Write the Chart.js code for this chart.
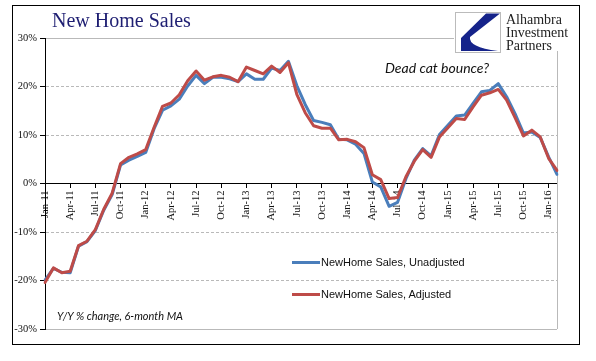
<!DOCTYPE html>
<html>
<head>
<meta charset="utf-8">
<script src="https://cdn.jsdelivr.net/npm/chart.js@4.4.1/dist/chart.umd.min.js"></script>
<style>
  body { margin: 0; background: #fff; }
  #wrap { position: relative; width: 596px; height: 361px; overflow: hidden; background: #fff; }
  #box { position: absolute; left: 0; top: 0; width: 596px; height: 361px; }
  #frame { position: absolute; left: 12px; top: 5px; width: 566px; height: 338px; border: 1px solid #000; pointer-events: none; }
  #title { position: absolute; left: 52px; top: 10px; font: 20px 'Liberation Serif', serif; line-height: 20px; color: #1e1e72; white-space: nowrap; }
  #logo { position: absolute; left: 454px; top: 9px; width: 108px; height: 42px; background: #fff; }
  #logo svg { position: absolute; left: 1px; top: 3px; }
  #logoText { position: absolute; left: 52px; top: 4px; font: 14px 'Liberation Serif', serif; line-height: 13px; color: #222; white-space: nowrap; }
  #note { position: absolute; left: 385px; top: 61px; font: italic 14px Lato, sans-serif; line-height: 14px; color: #111; white-space: nowrap; }
  #units { position: absolute; left: 57px; top: 310px; font: italic 11px Lato, sans-serif; line-height: 12px; color: #111; white-space: nowrap; }
  .leg { position: absolute; left: 292px; font: 11px 'Liberation Sans', sans-serif; line-height: 12px; color: #111; white-space: nowrap; }
  .leg i { position: absolute; left: 0; top: 4.5px; width: 28px; height: 3px; }
  .leg span { position: absolute; left: 29px; top: 0; }
</style>
</head>
<body>
<div id="wrap">
  <div id="box"><canvas id="chart"></canvas></div>
  <div id="frame"></div>
  <div id="title">New Home Sales</div>
  <div id="logo">
    <svg width="46" height="41" viewBox="0 0 46 41">
      <rect x="0.5" y="0.5" width="45" height="40" fill="#fff" stroke="#bbb"/>
      <path d="M31 1.5 L45 1.5 L15 25 Q13 35 43 39 L6 39 L6 26 Z" fill="#15238a"/>
    </svg>
    <div id="logoText">Alhambra<br>Investment<br>Partners</div>
  </div>
  <div id="note">Dead cat bounce?</div>
  <div id="units">Y/Y % change, 6-month MA</div>
  <div class="leg" style="top:256px"><i style="background:#4a7ebb"></i><span>NewHome Sales, Unadjusted</span></div>
  <div class="leg" style="top:288px"><i style="background:#be4b48"></i><span>NewHome Sales, Adjusted</span></div>
</div>
<script>
const months = [
  'Jan-11','Feb-11','Mar-11','Apr-11','May-11','Jun-11','Jul-11','Aug-11','Sep-11','Oct-11','Nov-11','Dec-11',
  'Jan-12','Feb-12','Mar-12','Apr-12','May-12','Jun-12','Jul-12','Aug-12','Sep-12','Oct-12','Nov-12','Dec-12',
  'Jan-13','Feb-13','Mar-13','Apr-13','May-13','Jun-13','Jul-13','Aug-13','Sep-13','Oct-13','Nov-13','Dec-13',
  'Jan-14','Feb-14','Mar-14','Apr-14','May-14','Jun-14','Jul-14','Aug-14','Sep-14','Oct-14','Nov-14','Dec-14',
  'Jan-15','Feb-15','Mar-15','Apr-15','May-15','Jun-15','Jul-15','Aug-15','Sep-15','Oct-15','Nov-15','Dec-15',
  'Jan-16','Feb-16'
];

// Y/Y % change, 6-month moving average
const unadjusted = [
  -19.9, -17.5, -18.3, -18.4, -12.9, -12.0, -9.7, -5.5, -2.3, 3.8, 4.8, 5.6,
  6.4, 11.3, 15.1, 16.0, 17.4, 20.1, 22.3, 20.6, 21.9, 21.9, 21.6, 21.0,
  22.6, 21.5, 21.5, 23.8, 23.3, 25.2, 20.2, 16.3, 13.0, 12.6, 12.1, 9.1,
  9.0, 8.1, 6.2, 0.3, -0.7, -4.7, -3.9, 1.0, 4.8, 7.2, 5.7, 10.1,
  12.0, 13.9, 14.1, 16.5, 18.9, 19.2, 20.6, 17.9, 14.4, 10.4, 10.6, 9.5,
  5.5, 1.9
];
const adjusted = [
  -20.4, -17.4, -18.4, -18.1, -12.8, -11.9, -9.5, -5.3, -2.0, 4.1, 5.4, 6.1,
  7.0, 11.6, 15.9, 16.6, 18.3, 21.2, 23.2, 21.3, 22.0, 22.3, 21.9, 21.0,
  24.0, 23.3, 22.6, 24.2, 22.9, 24.9, 18.4, 14.6, 11.9, 11.4, 11.4, 9.0,
  9.1, 8.6, 7.4, 1.8, 0.8, -3.1, -2.9, 1.4, 4.6, 7.0, 5.4, 9.6,
  11.5, 13.4, 13.2, 15.8, 18.2, 18.7, 19.4, 17.2, 13.6, 9.8, 11.0, 9.6,
  5.2, 2.7
];

const yMin = -30, yMax = 30, yStep = 10;
const tickFont = { family: 'Liberation Serif', size: 10.5 };

// grey line down the right side of the plot area
const rightEdge = {
  id: 'rightEdge',
  beforeDatasetsDraw(chart) {
    const { ctx, chartArea: a } = chart;
    const x = Math.round(a.right) + 0.5;
    ctx.save();
    ctx.strokeStyle = '#b9b9b9';
    ctx.lineWidth = 1;
    ctx.beginPath();
    ctx.moveTo(x, a.top);
    ctx.lineTo(x, a.bottom);
    ctx.stroke();
    ctx.restore();
  }
};

new Chart(document.getElementById('chart'), {
  type: 'line',
  data: {
    labels: months,
    datasets: [
      { label: 'NewHome Sales, Unadjusted', data: unadjusted, borderColor: '#4a7ebb', order: 1 },
      { label: 'NewHome Sales, Adjusted', data: adjusted, borderColor: '#be4b48', order: 0 }
    ]
  },
  options: {
    responsive: true,
    maintainAspectRatio: false,
    animation: false,
    layout: { padding: { left: 0, right: 39, top: 38, bottom: 32 } },
    elements: {
      line: { borderWidth: 3, tension: 0, borderJoinStyle: 'round', borderCapStyle: 'round' },
      point: { radius: 0, hoverRadius: 0 }
    },
    plugins: { legend: { display: false }, tooltip: { enabled: false } },
    scales: {
      x: {
        offset: false,
        position: { y: 0 },
        afterFit: s => { s.height = 0; },
        grid: { drawOnChartArea: false, tickLength: 4, tickColor: '#000' },
        border: { color: '#000', width: 1 },
        ticks: {
          autoSkip: false, maxRotation: 90, minRotation: 90, padding: 3,
          color: '#111', font: tickFont,
          callback: (v, i) => (i % 3 === 0 ? months[i] : null)
        }
      },
      y: {
        min: yMin, max: yMax,
        afterFit: s => { s.width = 45; },
        ticks: { stepSize: yStep, padding: 3, color: '#111', font: tickFont, callback: v => v + '%' },
        grid: {
          color: ctx => (ctx.tick && ctx.tick.value === 0 ? '#000' : '#b9b9b9'),
          tickLength: 5, tickColor: '#000'
        },
        border: {
          color: '#000',
          dash: ctx => (ctx.tick && ctx.tick.value !== 0 && Math.abs(ctx.tick.value) < yMax ? [3, 2] : [])
        }
      }
    }
  },
  plugins: [rightEdge]
});
</script>
</body>
</html>
